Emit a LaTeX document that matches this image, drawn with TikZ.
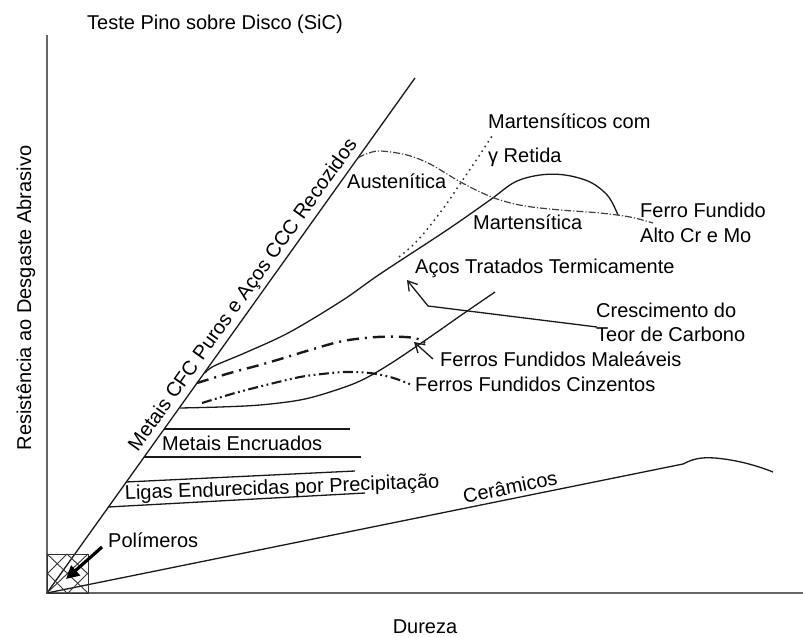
\documentclass[tikz,border=0pt]{standalone}
\usepackage{fontspec}
\setmainfont{Liberation Sans}
\usetikzlibrary{arrows.meta}
\begin{document}
\begin{tikzpicture}[x=1pt,y=-1pt,
  lbl/.style={font=\fontsize{20}{24}\selectfont, inner sep=0pt, text=black},
  axisline/.style={line width=1.7pt, draw=black!60},
  curve/.style={line width=1.3pt, draw=black!90},
  austline/.style={line width=1.2pt, draw=black!75, dash pattern=on 7pt off 2pt on 1.2pt off 2pt},
  retline/.style={line width=1.5pt, draw=black!80, dash pattern=on 1.6pt off 4pt},
  malline/.style={line width=2.4pt, draw=black!90, dash pattern=on 12pt off 6pt on 2pt off 6pt},
  cinline/.style={line width=2.1pt, draw=black!90, dash pattern=on 10pt off 3.5pt on 1.8pt off 3.5pt on 1.8pt off 3.5pt},
  barb/.style={line width=1.3pt, draw=black!90, -{Straight Barb[length=9pt,width=11pt]}}]
\useasboundingbox (0,0) rectangle (803,637);

% axes
\coordinate (O) at (47,593);
\coordinate (ytop) at (47,35);
\coordinate (xend) at (803,593);
\draw[axisline] (ytop) -- (O) -- (xend);

% titles
\node[lbl, anchor=base] (title) at (215,29) {Teste Pino sobre Disco (SiC)};
\node[lbl, anchor=base, rotate=90] (ylab) at (31,298) {Resistência ao Desgaste Abrasivo};
\node[lbl, anchor=base] (xlab) at (425,633) {Dureza};

% annealed pure metals line
\coordinate (D) at (415,78);
\draw[curve] (O) -- (D) node[pos=0.563, sloped, above=3pt, lbl] (cfc) {Metais CFC Puros e Aços CCC Recozidos};

% work hardened metals and precipitation hardened alloys
\draw[curve] (164,429) -- (350,429);
\draw[curve] (144,457) -- (361,457);
\draw[curve] (126,482) -- (355,471);
\draw[curve] (108,507) -- (365,493);
\node[lbl, anchor=base west] (encr) at (162,450) {Metais Encruados};
\node[lbl, anchor=base west, rotate=2.2] (ligas) at (125,500) {Ligas Endurecidas por Precipitação};

% ceramics
\coordinate (C1) at (683,464);
\coordinate (C2) at (773,472);
\draw[curve] (O) -- (C1) .. controls (693,459) and (700,457) .. (715,458) .. controls (738,460) and (758,466) .. (C2);
\node[lbl, rotate=11.5] (ceram) at (510,487) {Cerâmicos};

% polymers
\draw[line width=1pt, draw=black!80] (47,554) rectangle (88,593);
\draw[line width=0.9pt, draw=black!80]
  (47,554) -- (88,593)  (88,554) -- (47,593)
  (47,573) -- (67,593)  (67,554) -- (88,574)
  (67,554) -- (47,574)  (88,573) -- (68,593);
\coordinate (polA) at (102,547);
\coordinate (polB) at (66,579);
\draw[line width=3.2pt, draw=black, -{Triangle[length=13pt,width=13pt]}] (polA) -- (polB);
\node[lbl, anchor=base west] (polim) at (108,547) {Polímeros};

% heat treated steels
\draw[curve] plot[smooth, tension=0.55] coordinates {(205,373) (214,366) (247,352) (290,332) (343,300) (380,274) (447,230) (490,200) (515,182) (540,175) (565,175) (590,182) (608,196) (618,215)};
\node[lbl, anchor=base west] (acos) at (415,273) {Aços Tratados Termicamente};

% austenitic high Cr cast iron
\draw[austline] plot[smooth, tension=0.55] coordinates {(358,158) (366,154) (380,151) (407,155) (430,164) (457,180) (480,192) (500,200) (525,206) (560,210) (600,213) (630,217) (653,223)};
\node[lbl, anchor=base west] (aust) at (347,188) {Austenítica};
\node[lbl, anchor=base west] (mart) at (473,229) {Martensítica};
\node[lbl, anchor=base west] (ff1) at (640,217) {Ferro Fundido};
\node[lbl, anchor=base west] (ff2) at (640,242) {Alto Cr e Mo};

% martensitic with retained austenite
\draw[retline] plot[smooth, tension=0.5] coordinates {(399,257) (412,246) (425,232) (445,206) (460,184) (477,159) (492,136)};
\node[lbl, anchor=base west] (mret1) at (488,128) {Martensíticos com};
\node[lbl, anchor=base west] (mret2) at (488,162) {γ Retida};

% carbon content arrow
\node[lbl, anchor=base west] (cresc1) at (596,317) {Crescimento do};
\node[lbl, anchor=base west] (cresc2) at (596,341) {Teor de Carbono};
\coordinate (cA) at (597,327);
\coordinate (cB) at (428,306);
\coordinate (cC) at (407,280);
\draw[barb] (cA) -- (cB) -- (cC);

% cast irons
\draw[curve] plot[smooth, tension=0.55] coordinates {(180,408) (220,407) (260,405) (300,400) (330,392) (360,381) (390,364) (430,337) (460,316) (495,292)};
\draw[malline] plot[smooth, tension=0.55] coordinates {(197,383) (230,373) (267,363) (310,350) (343,341) (377,337) (405,337) (418,339) (425,343)};
\draw[cinline] plot[smooth, tension=0.55] coordinates {(202,403) (235,393) (270,384) (300,377) (322,374) (345,372) (370,373) (390,377) (402,381) (412,385)};
\node[lbl, anchor=base west] (male) at (440,366) {Ferros Fundidos Maleáveis};
\node[lbl, anchor=base west] (cinz) at (415,391) {Ferros Fundidos Cinzentos};
\coordinate (mA) at (433,359);
\coordinate (mB) at (414,342);
\draw[barb] (mA) -- (mB);
\end{tikzpicture}
\end{document}
